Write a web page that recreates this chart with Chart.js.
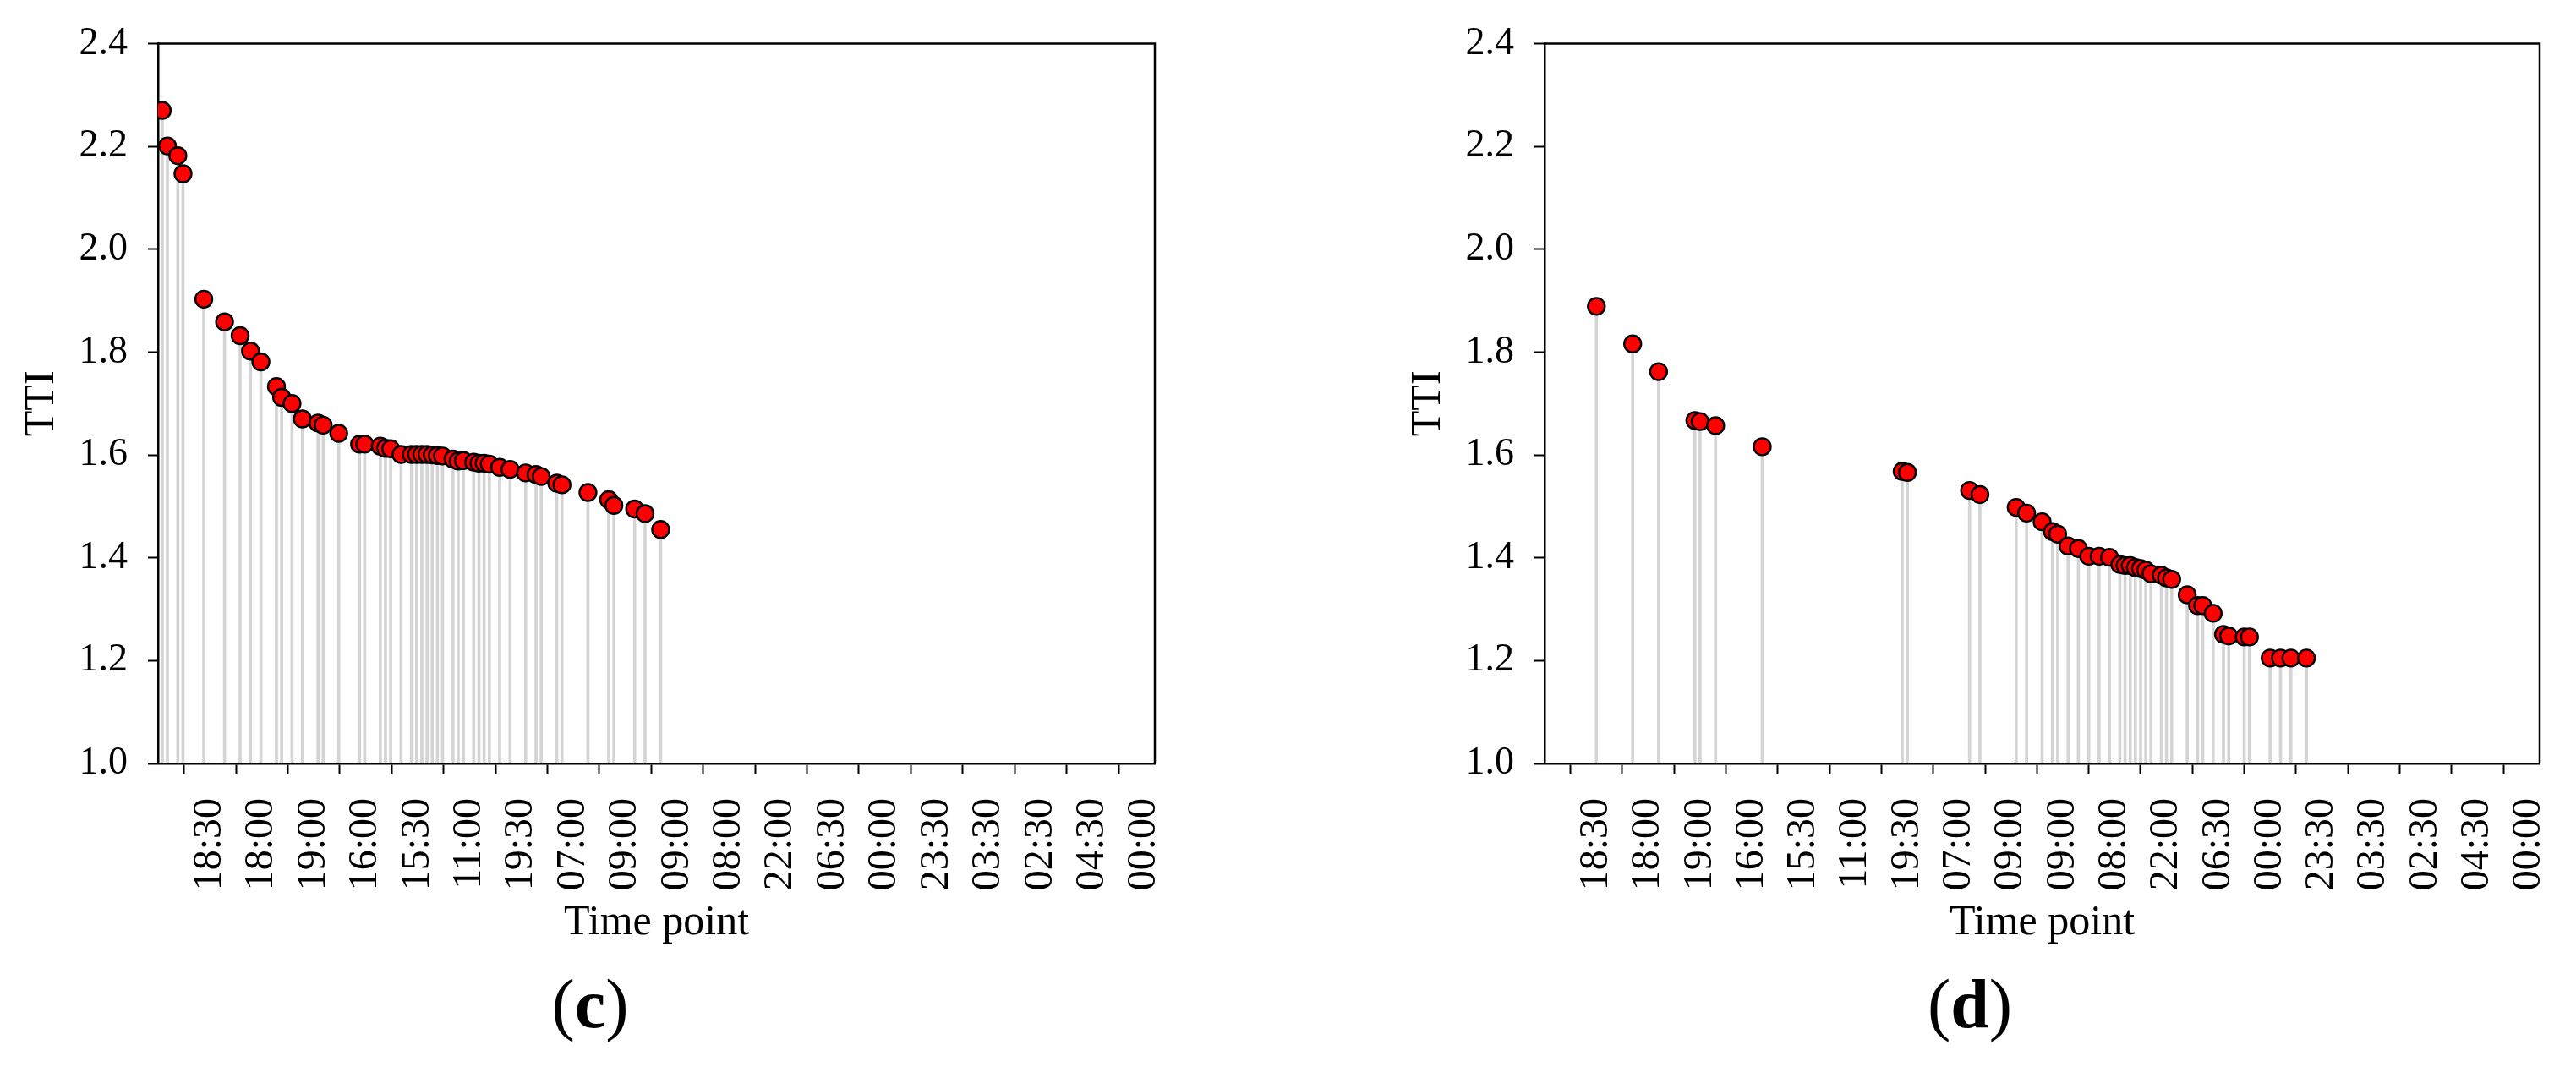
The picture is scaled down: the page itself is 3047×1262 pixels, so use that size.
<!DOCTYPE html>
<html>
<head>
<meta charset="utf-8">
<script src="https://cdn.jsdelivr.net/npm/chart.js@4.4.0/dist/chart.umd.min.js"></script>
<style>
  html, body { margin: 0; padding: 0; background: #fff; }
  body { width: 3047px; height: 1262px; position: relative; overflow: hidden; font-family: "Liberation Serif", serif; color: #000; }
  .panel { position: absolute; top: 0; height: 1262px; }
  .caption { position: absolute; top: 1147px; font-size: 82px; line-height: 1; transform: translateX(-50%); white-space: nowrap; }
</style>
</head>
<body>
<div class="panel" style="left:0;width:1406px"><canvas id="chartC"></canvas></div>
<div class="panel" style="left:1640px;width:1404px"><canvas id="chartD"></canvas></div>
<div class="caption" style="left:698px">(<b>c</b>)</div>
<div class="caption" style="left:2330px">(<b>d</b>)</div>
<script>
// tick labels of the time axis (tick 0 carries no label)
const tickPositions = [0, 1, 2, 3, 4, 5, 6, 7, 8, 9, 10, 11, 12, 13, 14, 15, 16, 17, 18, 19];
const timeLabels = ['18:30', '18:00', '19:00', '16:00', '15:30', '11:00', '19:30', '07:00', '09:00', '09:00',
                    '08:00', '22:00', '06:30', '00:00', '23:30', '03:30', '02:30', '04:30', '00:00'];
const yTicks = [1.0, 1.2, 1.4, 1.6, 1.8, 2.0, 2.2, 2.4];

// panel (c)
const cTime = [0.08, 0.18, 0.38, 0.48, 0.88, 1.28, 1.58, 1.78, 1.98, 2.28, 2.38, 2.58, 2.78, 3.08, 3.18, 3.48,
               3.88, 3.98, 4.28, 4.38, 4.48, 4.68, 4.88, 4.98, 5.08, 5.18, 5.28, 5.38, 5.48, 5.68, 5.78, 5.88,
               6.08, 6.18, 6.28, 6.38, 6.58, 6.78, 7.08, 7.28, 7.38, 7.68, 7.78, 8.28, 8.68, 8.78, 9.18, 9.38, 9.68];
const cTTI = [2.270, 2.201, 2.182, 2.147, 1.903, 1.859, 1.832, 1.802, 1.781, 1.733, 1.712, 1.700, 1.670, 1.662,
              1.658, 1.642, 1.621, 1.621, 1.617, 1.613, 1.612, 1.601, 1.601, 1.601, 1.601, 1.601, 1.600, 1.599,
              1.598, 1.592, 1.588, 1.589, 1.586, 1.584, 1.584, 1.582, 1.576, 1.572, 1.565, 1.562, 1.558, 1.545,
              1.542, 1.527, 1.513, 1.502, 1.495, 1.486, 1.455];

// panel (d)
const dTime = [1.0, 1.7, 2.2, 2.9, 3.0, 3.3, 4.2, 6.9, 7.0, 8.2, 8.4, 9.1, 9.3, 9.6, 9.8, 9.9, 10.1, 10.3, 10.5,
               10.7, 10.9, 11.1, 11.2, 11.3, 11.4, 11.5, 11.6, 11.7, 11.9, 12.0, 12.1, 12.4, 12.6, 12.7, 12.9,
               13.1, 13.2, 13.5, 13.6, 14.0, 14.2, 14.4, 14.7];
const dTTI = [1.889, 1.816, 1.762, 1.667, 1.665, 1.657, 1.616, 1.568, 1.566, 1.531, 1.523, 1.498, 1.487, 1.470,
              1.451, 1.446, 1.423, 1.418, 1.403, 1.403, 1.401, 1.387, 1.385, 1.385, 1.381, 1.379, 1.376, 1.369,
              1.366, 1.361, 1.358, 1.328, 1.307, 1.307, 1.292, 1.251, 1.248, 1.246, 1.246, 1.205, 1.205, 1.205,
              1.205];

const FONT = '"Liberation Serif", "Times New Roman", serif';

// closes the box: top and right edges of the plot area
const frameBox = {
    id: 'frameBox',
    afterDraw(chart) {
        const {ctx, chartArea: a} = chart;
        ctx.save();
        ctx.strokeStyle = '#000';
        ctx.lineWidth = 2.5;
        ctx.beginPath();
        ctx.moveTo(a.left, a.top);
        ctx.lineTo(a.right, a.top);
        ctx.lineTo(a.right, a.bottom);
        ctx.stroke();
        ctx.restore();
    }
};

function makeChart(canvasId, xs, ys) {
    const points = xs.map((x, i) => ({ x: x, y: ys[i] }));
    return new Chart(document.getElementById(canvasId), {
        type: 'scatter',
        data: {
            datasets: [{
                type: 'scatter',
                data: points,
                order: 0,
                pointRadius: 10,
                pointBorderWidth: 2.4,
                pointBackgroundColor: '#ff0000',
                pointBorderColor: '#000000'
            }, {
                type: 'bar',
                data: points,
                order: 1,
                base: 1.0,
                barThickness: 3,
                backgroundColor: '#d4d4d4',
                borderWidth: 0
            }]
        },
        options: {
            responsive: true,
            maintainAspectRatio: false,
            animation: false,
            events: [],
            layout: { padding: { top: 45, right: 40, bottom: 0, left: 0 } },
            plugins: { legend: { display: false }, tooltip: { enabled: false } },
            scales: {
                x: {
                    type: 'linear',
                    min: 0,
                    max: 19.2,
                    offset: false,
                    afterBuildTicks: (scale) => { scale.ticks = tickPositions.map(v => ({ value: v })); },
                    afterFit: (scale) => {
                        scale.height = 359;
                        scale.paddingLeft = 0;
                        scale.paddingRight = 0;
                    },
                    grid: { drawOnChartArea: false, drawTicks: true, tickLength: 13, tickColor: '#000', tickWidth: 2 },
                    border: { display: true, color: '#000', width: 2.5 },
                    ticks: {
                        autoSkip: false,
                        minRotation: 90,
                        maxRotation: 90,
                        padding: 28,
                        color: '#000',
                        font: { family: FONT, size: 48 },
                        callback: (value) => timeLabels[value - 1] ?? ''
                    },
                    title: {
                        display: true,
                        text: 'Time point',
                        color: '#000',
                        font: { family: FONT, size: 50, lineHeight: 1.2 },
                        padding: { top: 0, bottom: 140 }
                    }
                },
                y: {
                    min: 1.0,
                    max: 2.4,
                    afterBuildTicks: (scale) => { scale.ticks = yTicks.map(v => ({ value: v })); },
                    afterFit: (scale) => { scale.width = 187; },
                    grid: { drawOnChartArea: false, drawTicks: true, tickLength: 12, tickColor: '#000', tickWidth: 2 },
                    border: { display: true, color: '#000', width: 2.5 },
                    ticks: {
                        padding: 24,
                        color: '#000',
                        font: { family: FONT, size: 46 },
                        callback: (value) => value.toFixed(1)
                    },
                    title: {
                        display: true,
                        text: 'TTI',
                        color: '#000',
                        font: { family: FONT, size: 50, lineHeight: 1.2 },
                        padding: { top: 20, bottom: 0 }
                    }
                }
            }
        },
        plugins: [frameBox]
    });
}

makeChart('chartC', cTime, cTTI);
makeChart('chartD', dTime, dTTI);
</script>
</body>
</html>
